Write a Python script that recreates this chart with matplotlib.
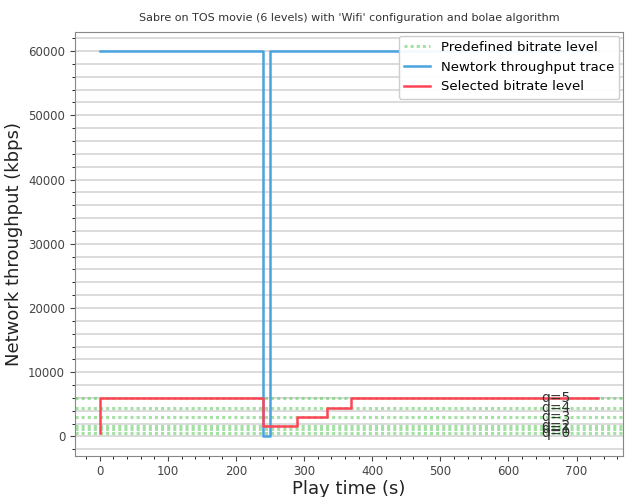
import matplotlib
matplotlib.use("Agg")
import matplotlib.pyplot as plt
from matplotlib.ticker import MultipleLocator

# bitrate levels (kbps), q=0..5
levels = [500, 1100, 1700, 3050, 4400, 6000]
level_names = ["q=0", "q=1", "q=2", "q=3", "q=4", "q=5"]

# network throughput trace (kbps)
trace_t = [0, 239, 239, 250, 250, 732]
trace_v = [60000, 60000, 0, 0, 60000, 60000]

# selected bitrate (step changes)
sel_t = [0, 0, 240, 240, 289.5, 289.5, 333, 333, 369.4, 369.4, 732]
sel_v = [500, 6000, 6000, 1700, 1700, 3050, 3050, 4400, 4400, 6000, 6000]

fig = plt.figure(figsize=(6.29, 4.97), dpi=100)
ax = fig.add_axes([0.119, 0.083, 0.872, 0.853])

for i, lv in enumerate(levels):
    ax.axhline(lv, color="#5cc95c", linestyle=(0, (1, 1)), linewidth=2.2, alpha=0.55,
               label="Predefined bitrate level" if i == 0 else None, zorder=2)
    ax.text(648, lv, level_names[i], fontsize=10, va="center", color="#333333", zorder=5)

ax.plot(trace_t, trace_v, color="#4aa3df", linewidth=1.8, label="Newtork throughput trace", zorder=3)
ax.plot(sel_t, sel_v, color="#ff4455", linewidth=1.8, label="Selected bitrate level", zorder=4)

ax.set_title("Sabre on TOS movie (6 levels) with 'Wifi' configuration and bolae algorithm",
             fontsize=8, color="#333333", pad=8)
ax.set_xlabel("Play time (s)", fontsize=13, color="#222222", labelpad=1)
ax.set_ylabel("Network throughput (kbps)", fontsize=13, color="#222222")

ax.yaxis.set_major_locator(MultipleLocator(10000))
ax.yaxis.set_minor_locator(MultipleLocator(2000))
ax.xaxis.set_major_locator(MultipleLocator(100))
ax.xaxis.set_minor_locator(MultipleLocator(20))
ax.grid(axis="y", which="both", color="#dcdcdc", linewidth=1.4, zorder=0)
ax.set_axisbelow(True)
ax.tick_params(labelsize=8.5, colors="#444444")
for s in ax.spines.values():
    s.set_color("#888888")

ax.legend(loc="upper right", fontsize=9.5, framealpha=0.95, borderaxespad=0.3)

fig.savefig("out.png", dpi=100)
